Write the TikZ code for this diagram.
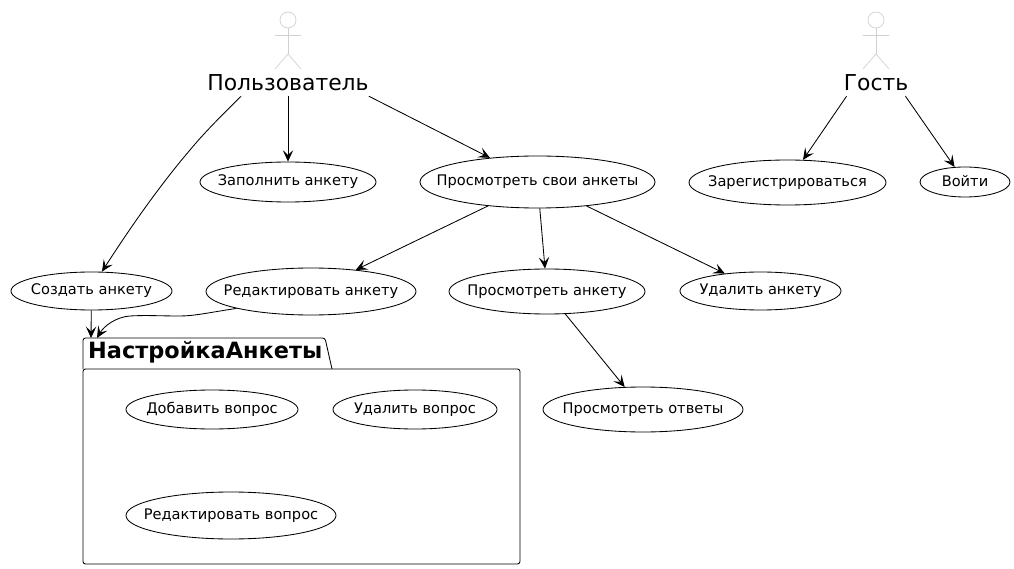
\documentclass[tikz,border=0pt]{standalone}
\usepackage{fontspec}
\setmainfont{DejaVu Sans}
\usetikzlibrary{arrows.meta,shapes.geometric}
\tikzset{
    usecase/.style={draw=black, line width=0.85pt, ellipse, inner sep=0pt, font=\fontsize{14.6}{17}\selectfont},
    actorlabel/.style={inner sep=0pt, minimum height=26, font=\fontsize{21.9}{26}\selectfont},
    stickman/.style={draw=black!18, line width=0.7pt},
    link/.style={draw=black, line width=0.85pt, -{Stealth[length=11.5pt,width=10.5pt,inset=5pt]}},
}
\newcommand{\stickfigure}[1]{
    \draw[stickman] (#1,20) circle (8);
    \draw[stickman] (#1,28) -- (#1,54);
    \draw[stickman] (#1-13,35) -- (#1+13,35);
    \draw[stickman] (#1-13,69) -- (#1,54) -- (#1+13,69);
}
\newcommand{\uclabel}[1]{\raisebox{2pt}{\makebox[0pt]{#1}}}
\begin{document}
\begin{tikzpicture}[x=1pt,y=-1pt]
    \useasboundingbox (0,0) rectangle (1014,569);

    % Actors
    \stickfigure{288}
    \stickfigure{876}
    \node[actorlabel] (user) at (288,83) {Пользователь};
    \node[actorlabel] (guest) at (876,83) {Гость};

    % Package
    \draw[line width=0.85pt, rounded corners=2.5pt] (83,369) -- (83,338) -- (325,338) -- (332,369);
    \draw[line width=0.85pt, rounded corners=2.5pt] (83,369) -- (83,564) -- (520,564) -- (520,369) -- cycle;
    \node[anchor=west, inner sep=0pt, font=\fontsize{22.4}{26}\selectfont\bfseries] (pkgtitle) at (88,352.5) {НастройкаАнкеты};
    \coordinate (pkgleft) at (91,338);
    \coordinate (pkgright) at (97,338);

    % Use cases
    \node[usecase, minimum width=176, minimum height=40] (fill) at (288,182) {\uclabel{Заполнить анкету}};
    \node[usecase, minimum width=235, minimum height=52] (own) at (537.5,182) {\uclabel{Просмотреть свои анкеты}};
    \node[usecase, minimum width=197, minimum height=45] (register) at (787.5,182.5) {\uclabel{Зарегистрироваться}};
    \node[usecase, minimum width=90, minimum height=30] (login) at (965,182) {\uclabel{Войти}};
    \node[usecase, minimum width=161, minimum height=38] (create) at (91.5,291) {\uclabel{Создать анкету}};
    \node[usecase, minimum width=210, minimum height=47] (edit) at (311,291.5) {\uclabel{Редактировать анкету}};
    \node[usecase, minimum width=196, minimum height=45] (view) at (547,291.5) {\uclabel{Просмотреть анкету}};
    \node[usecase, minimum width=161, minimum height=38] (remove) at (760.5,291) {\uclabel{Удалить анкету}};
    \node[usecase, minimum width=200, minimum height=45] (answers) at (643,409.5) {\uclabel{Просмотреть ответы}};
    \node[usecase, minimum width=172, minimum height=39] (addq) at (212,409.5) {\uclabel{Добавить вопрос}};
    \node[usecase, minimum width=164, minimum height=39] (delq) at (415,409.5) {\uclabel{Удалить вопрос}};
    \node[usecase, minimum width=210, minimum height=47] (editq) at (231,515.5) {\uclabel{Редактировать вопрос}};

    % Links
    \draw[link] (user.south) -- (fill);
    \draw[link] (user.south east) -- (own);
    \draw[link] ([xshift=34]user.south west) .. controls (222,115) and (204,133) .. (190,150) .. controls (160,185) and (130,228) .. ([xshift=10.5]create.north);
    \draw[link] (own) -- (edit);
    \draw[link] (own) -- (view);
    \draw[link] (own) -- (remove);
    \draw[link] (view) -- (answers);
    \draw[link] ([xshift=3]guest.south west) -- (register);
    \draw[link] ([xshift=-3]guest.south east) -- (login);
    \draw[link] (create) -- (pkgleft);
    \draw[link] (edit.south west) .. controls (212,312) and (195,316) .. (180,316) .. controls (160,316) and (145,315) .. (130,316) .. controls (116,317) and (104,326) .. (pkgright);
\end{tikzpicture}
\end{document}
